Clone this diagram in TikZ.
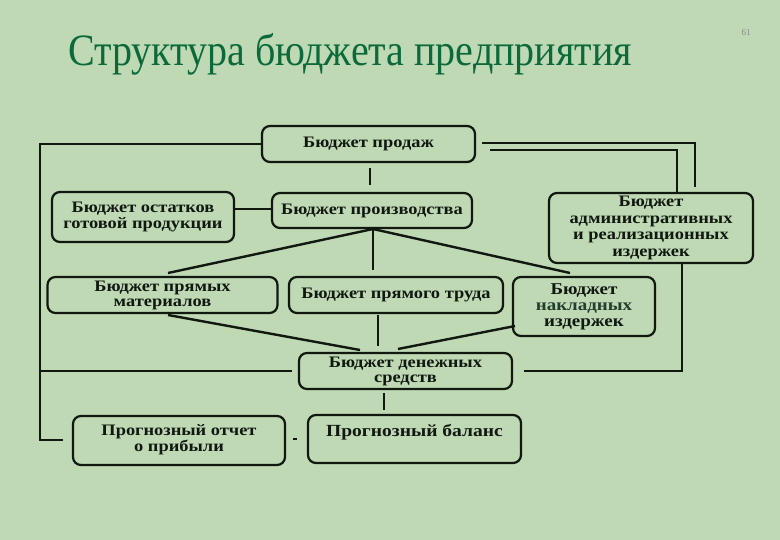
\documentclass[tikz,border=0pt]{standalone}
\usepackage{fontspec}
\setmainfont{Liberation Serif}
\newfontfamily\boxfont{Liberation Serif}[FakeStretch=1.15]
\definecolor{bg}{RGB}{190,217,180}
\definecolor{titlegreen}{RGB}{12,106,58}
\definecolor{ink}{RGB}{16,24,16}
\definecolor{darkgr}{RGB}{34,62,46}
\begin{document}
\begin{tikzpicture}[x=1pt,y=-1pt,
  bx/.style={draw=ink, line width=2.2pt, rounded corners=8pt, align=center, inner sep=0pt,
             font=\boxfont\bfseries\fontsize{16}{16}\selectfont, text=ink},
  conn/.style={draw=ink, line width=2.4pt},
  thin/.style={draw=ink, line width=1.3pt}]
\fill[bg] (0,0) rectangle (780,540);
\useasboundingbox (0,0) rectangle (780,540);
% title
\node[anchor=base west, text=titlegreen, font=\fontsize{40}{40}\selectfont, inner sep=0pt] (title) at (68,66) {\scalebox{1}[1.12]{Структура бюджета предприятия}};
\node[text=black!45, font=\fontsize{9}{9}\selectfont, inner sep=0pt] (pg) at (746,33) {61};
% boxes
\node[bx, minimum width=213pt, minimum height=36pt] (sales) at (368.5,144) {Бюджет продаж};
\node[bx, minimum width=182pt, minimum height=50pt] (stock) at (143,217) {\raisebox{5pt}{\begin{tabular}{@{}c@{}}Бюджет остатков\\готовой продукции\end{tabular}}};
\node[bx, minimum width=200pt, minimum height=35pt] (prod) at (372,210.5) {Бюджет производства};
\node[bx, minimum width=204pt, minimum height=70pt, font=\boxfont\bfseries\fontsize{16}{16.5}\selectfont] (admin) at (651,228) {Бюджет\\административных\\и реализационных\\издержек};
\node[bx, minimum width=230pt, minimum height=36pt, font=\boxfont\bfseries\fontsize{16}{15}\selectfont] (mat) at (162.5,295) {Бюджет прямых\\материалов};
\node[bx, minimum width=214pt, minimum height=36pt] (labor) at (396,295) {Бюджет прямого труда};
\node[bx, minimum width=142pt, minimum height=59pt, font=\boxfont\bfseries\fontsize{16.5}{16}\selectfont] (over) at (584,306.5) {Бюджет\\\textcolor{darkgr}{накладных}\\издержек};
\node[bx, minimum width=213pt, minimum height=36pt, font=\boxfont\bfseries\fontsize{16}{15}\selectfont] (cash) at (405.5,371) {Бюджет денежных\\средств};
\node[bx, minimum width=212pt, minimum height=49pt] (profit) at (179,440.5) {\raisebox{5pt}{\begin{tabular}{@{}c@{}}Прогнозный отчет\\о прибыли\end{tabular}}};
\node[bx, minimum width=213pt, minimum height=48pt, text depth=18pt, font=\boxfont\bfseries\fontsize{17}{17}\selectfont] (bal) at (414.5,439) {Прогнозный баланс};
% free ends
\coordinate (l1) at (40,144);
\coordinate (l2) at (40,440);
\coordinate (l3) at (63,440);
\coordinate (l4) at (40,371);
\coordinate (l5) at (292,371);
\coordinate (r1a) at (482,143);
\coordinate (r1b) at (695,143);
\coordinate (r1c) at (695,187);
\coordinate (r2a) at (490,150);
\coordinate (r2b) at (677,150);
\coordinate (r2c) at (677,193);
\coordinate (sp1) at (370,168);
\coordinate (sp2) at (370,185);
\coordinate (apex) at (373,229);
\coordinate (t1) at (168,273);
\coordinate (t2) at (373,270);
\coordinate (t3) at (570,273);
\coordinate (m1) at (168,315);
\coordinate (m2) at (360,350);
\coordinate (w1) at (378,315);
\coordinate (w2) at (378,346);
\coordinate (o1) at (515,326);
\coordinate (o2) at (398,349);
\coordinate (c1) at (384,393);
\coordinate (c2) at (384,410);
\coordinate (a1) at (682,263);
\coordinate (a2) at (682,371);
\coordinate (a3) at (524,371);
\coordinate (d1) at (293,439);
\coordinate (d2) at (297,439);
% connectors
\draw[conn] (sales.west) -- (l1) -- (l2) -- (l3);
\draw[conn] (l4) -- (l5);
\draw[conn] (r1a) -- (r1b) -- (r1c);
\draw[conn] (r2a) -- (r2b) -- (r2c);
\draw[conn] (sp1) -- (sp2);
\draw[thin] (stock.east |- 0,209) -- (prod.west |- 0,209);
\draw[conn] (apex) -- (t1);
\draw[conn] (apex) -- (t2);
\draw[conn] (apex) -- (t3);
\draw[conn] (m1) -- (m2);
\draw[conn] (w1) -- (w2);
\draw[conn] (o1) -- (o2);
\draw[conn] (c1) -- (c2);
\draw[conn] (a1) -- (a2) -- (a3);
\draw[thin] (d1) -- (d2);
\end{tikzpicture}
\end{document}
